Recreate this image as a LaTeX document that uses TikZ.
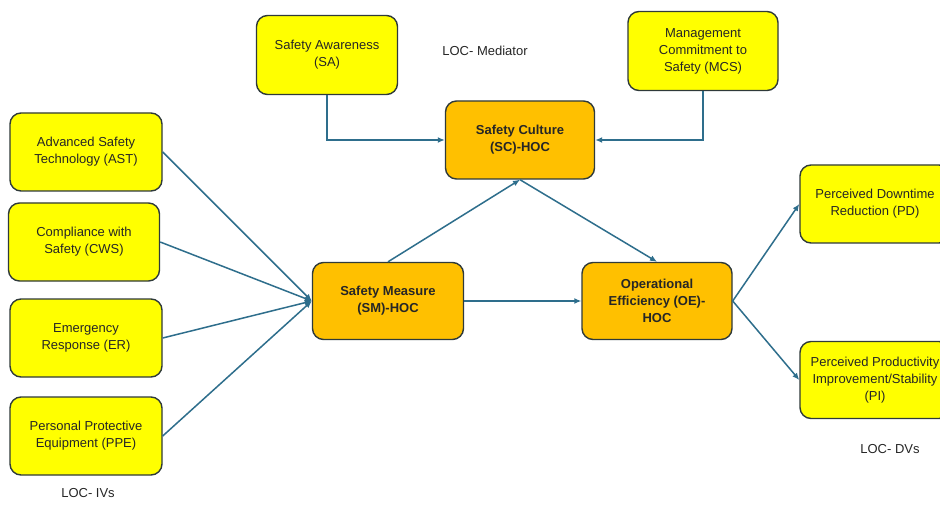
\documentclass[tikz,border=0pt]{standalone}
\usepackage{fontspec}
\setmainfont{Liberation Sans}
\usetikzlibrary{arrows.meta}
\definecolor{boxyellow}{HTML}{FFFF00}
\definecolor{boxorange}{HTML}{FFC000}
\definecolor{edgegray}{HTML}{2F3A3A}
\definecolor{linkblue}{HTML}{2E6E8C}
\definecolor{txt}{HTML}{262626}
\tikzset{
  base/.style={draw=edgegray, line width=1.4pt, rounded corners=11pt, align=center,
    font=\fontsize{13}{17}\selectfont, text=txt, inner sep=2pt},
  ybox/.style={base, fill=boxyellow},
  obox/.style={base, fill=boxorange, font=\fontsize{13}{17}\selectfont\bfseries},
  link/.style={draw=linkblue, line width=1.5pt, -{Latex[length=7pt,width=6pt]}},
  note/.style={font=\fontsize{13}{15}\selectfont, text=txt}
}
\begin{document}
\begin{tikzpicture}[x=1pt,y=-1pt]
\useasboundingbox (0,0) rectangle (940,505);
\clip (0,0) rectangle (940,505);
\fill[white] (0,0) rectangle (940,505);

% left IV boxes
\node[ybox, minimum width=152pt, minimum height=78pt] (ast) at (86,152) {Advanced Safety\\Technology (AST)};
\node[ybox, minimum width=151pt, minimum height=78pt] (cws) at (84,242) {Compliance with\\Safety (CWS)};
\node[ybox, minimum width=152pt, minimum height=78pt] (er) at (86,338) {Emergency\\Response (ER)};
\node[ybox, minimum width=152pt, minimum height=78pt] (ppe) at (86,436) {Personal Protective\\Equipment (PPE)};
\node[note] (ivs) at (88,493) {LOC- IVs};

% mediator inputs
\node[ybox, minimum width=141pt, minimum height=79pt] (sa) at (327,55) {Safety Awareness\\(SA)};
\node[ybox, minimum width=150pt, minimum height=79pt] (mcs) at (703,51) {Management\\Commitment to\\Safety (MCS)};
\node[note] (med) at (485,51) {LOC- Mediator};

% HOC boxes
\node[obox, minimum width=149pt, minimum height=78pt] (sc) at (520,140) {Safety Culture\\(SC)-HOC};
\node[obox, minimum width=151pt, minimum height=77pt] (sm) at (388,301) {Safety Measure\\(SM)-HOC};
\node[obox, minimum width=150pt, minimum height=77pt] (oe) at (657,301) {Operational\\Efficiency (OE)-\\HOC};

% DV boxes
\node[ybox, minimum width=150pt, minimum height=78pt] (pd) at (875,204) {Perceived Downtime\\Reduction (PD)};
\node[ybox, minimum width=150pt, minimum height=77pt] (pi) at (875,380) {Perceived Productivity\\Improvement/Stability\\(PI)};
\node[note] (dvs) at (890,449) {LOC- DVs};

% connectors
\draw[link] (ast.east) -- (sm.west);
\draw[link] (cws.east) -- (sm.west);
\draw[link] (er.east) -- (sm.west);
\draw[link] (ppe.east) -- (sm.west);
\draw[link] (sa.south) |- (sc.west);
\draw[link] (mcs.south) |- (sc.east);
\draw[link] (sm.north) -- (sc.south);
\draw[link] (sc.south) -- (oe.north);
\draw[link] (sm.east) -- (oe.west);
\draw[link] (oe.east) -- (pd.west);
\draw[link] (oe.east) -- (pi.west);
\end{tikzpicture}
\end{document}
